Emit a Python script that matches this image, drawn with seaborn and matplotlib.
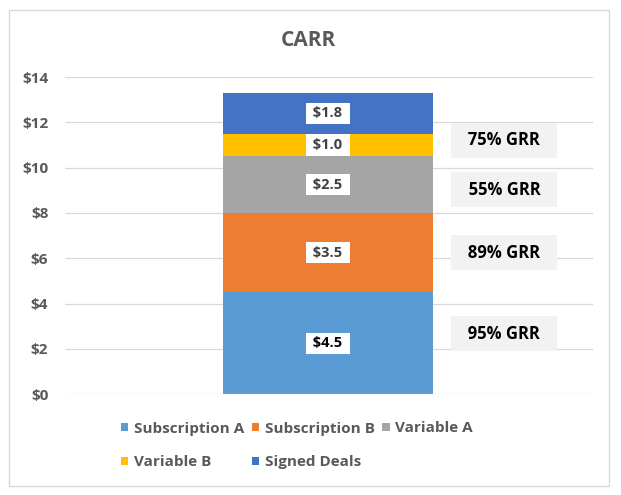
import matplotlib
matplotlib.use("Agg")
import matplotlib.pyplot as plt
import seaborn as sns
import pandas as pd
from matplotlib.patches import Patch, Rectangle

# ---- data ----
category = "CARR"
series = ["Subscription A", "Subscription B", "Variable A", "Variable B", "Signed Deals"]
values = [4.5, 3.5, 2.5, 1.0, 1.8]
colors = ["#5B9BD5", "#ED7D31", "#A5A5A5", "#FFC000", "#4472C4"]
grr_labels = ["95% GRR", "89% GRR", "55% GRR", "75% GRR"]
grr_y = [2.68, 6.25, 9.03, 11.20]
yticks = [0, 2, 4, 6, 8, 10, 12, 14]
ytick_labels = [f"${v}" for v in yticks]

sns.set_theme(style="white")
plt.rcParams['font.family'] = ['Open Sans', 'DejaVu Sans']

fig = plt.figure(figsize=(6.21, 4.95), dpi=100)
ax = fig.add_axes([65 / 621, 1 - 394.3 / 495, 528 / 621, 317.3 / 495])

df = pd.DataFrame({"category": [category] * len(series), "series": series, "value": values})
df["bottom"] = df["value"].cumsum() - df["value"]

for i, row in df.iterrows():
    sns.barplot(x=[row["category"]], y=[row["value"]], bottom=row["bottom"],
                color=colors[i], saturation=1, width=0.8, errorbar=None,
                linewidth=0, ax=ax, zorder=3)

# value labels
for i, row in df.iterrows():
    col = "#000000" if i == 0 else "#404040"
    ax.text(0, row["bottom"] + row["value"] / 2, f" ${row['value']:.1f} ",
            ha="center", va="center", fontsize=10.5, fontweight="bold", color=col,
            bbox=dict(facecolor="white", edgecolor="none", boxstyle="square,pad=0.25"),
            zorder=5)

# GRR annotations
for lab, y in zip(grr_labels, grr_y):
    ax.text(0.672, y, f"  {lab}  ", ha="center", va="center", fontsize=12,
            fontweight="bold", color="#000000",
            bbox=dict(facecolor="#F2F2F2", edgecolor="none", boxstyle="square,pad=0.5"),
            zorder=5)

ax.set_ylim(0, 14)
ax.set_xlim(-1.0, 1.01)
ax.set_yticks(yticks)
ax.set_yticklabels(ytick_labels)
ax.set_xticks([])
ax.set_xlabel("")
ax.set_ylabel("")
ax.grid(axis="y", color="#D9D9D9", linewidth=0.9, zorder=0)
ax.set_axisbelow(True)
for s in ax.spines.values():
    s.set_visible(False)
ax.tick_params(axis="y", length=0, pad=12, labelsize=11, labelcolor="#595959")
for t in ax.get_yticklabels():
    t.set_fontweight("bold")

fig.text(308.5 / 621, 1 - 40 / 495, "CARR", ha="center", va="center",
         fontsize=15, fontweight="bold", color="#595959")

handles = [Patch(facecolor=c, edgecolor="none", label=s) for s, c in zip(series, colors)]
order = [0, 3, 1, 4, 2]
fig.legend(handles=[handles[i] for i in order], loc="upper left",
           bbox_to_anchor=(120.7 / 621, 1 - 421.5 / 495), ncol=3, frameon=False,
           prop=dict(weight="bold", size=11), labelcolor="#595959",
           handlelength=0.5, handleheight=0.5, handletextpad=0.35,
           columnspacing=0.5, labelspacing=1.3, borderpad=0, borderaxespad=0)

fig.add_artist(Rectangle((9 / 621, 1 - 486 / 495), 600 / 621, 476 / 495,
                         transform=fig.transFigure, fill=False,
                         edgecolor="#D9D9D9", linewidth=1))

fig.savefig("out.png", dpi=100)
